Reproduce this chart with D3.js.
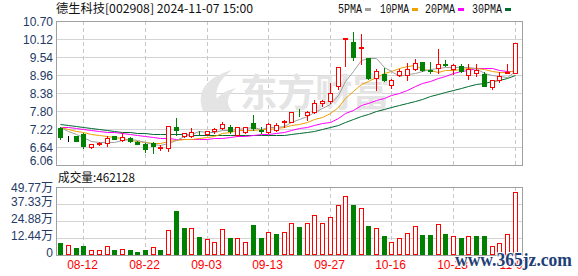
<!DOCTYPE html>
<html><head><meta charset="utf-8">
<script src="https://cdn.jsdelivr.net/npm/d3@7"></script>
<style>body{margin:0;background:#fff;}svg{display:block}</style>
</head><body>
<svg id="c" width="578" height="276"></svg>
<script>
const title = "德生科技[002908] 2024-11-07 15:00";
const dates = ["08-07","08-08","08-09","08-12","08-13","08-14","08-15","08-16","08-19","08-20","08-21","08-22","08-23","08-26","08-27","08-28","08-29","08-30",
"09-02","09-03","09-04","09-05","09-06","09-09","09-10","09-11","09-12","09-13","09-18","09-19","09-20","09-23","09-24","09-25","09-26","09-27","09-30",
"10-08","10-09","10-10","10-11","10-14","10-15","10-16","10-17","10-18","10-21","10-22","10-23","10-24","10-25","10-28","10-29","10-30","10-31",
"11-01","11-04","11-05","11-06","11-07"];
const open  = [7.25,6.98,6.98,7.07,6.65,6.73,6.78,6.98,6.85,6.94,6.80,6.74,6.78,6.60,6.60,7.28,6.98,7.00,7.10,7.06,7.14,7.24,7.30,7.03,7.11,7.41,7.19,7.11,7.19,7.46,7.46,7.78,7.66,7.77,8.07,8.13,8.60,10.13,10.02,9.82,9.50,8.85,9.00,8.63,8.96,8.95,9.16,9.38,9.12,9.17,9.31,9.14,9.24,8.97,9.03,9.00,8.58,8.81,9.03,9.03];
const high  = [7.30,6.98,6.98,7.09,6.74,6.79,6.99,7.00,7.09,6.96,6.82,6.78,6.80,6.71,7.32,7.57,7.10,7.24,7.16,7.16,7.25,7.43,7.34,7.30,7.30,7.67,7.28,7.42,7.42,7.52,7.78,7.87,7.80,8.16,8.15,8.70,9.23,10.14,10.34,10.27,9.52,9.15,9.17,8.82,9.16,9.35,9.49,9.39,9.38,9.81,9.43,9.30,9.32,9.32,9.30,9.05,8.80,9.05,9.30,9.98];
const low   = [6.89,6.82,6.82,6.61,6.60,6.72,6.67,6.90,6.84,6.79,6.73,6.49,6.46,6.55,6.50,7.03,6.96,6.95,7.02,7.04,7.10,7.21,7.09,7.00,7.08,7.19,7.08,7.08,7.14,7.28,7.45,7.65,7.52,7.73,7.95,8.06,8.52,9.24,9.45,9.32,8.84,8.48,8.76,8.54,8.92,8.79,9.11,9.08,9.03,9.01,9.24,9.00,9.05,8.84,8.92,8.60,8.52,8.74,9.02,9.02];
const close = [6.96,6.98,6.83,6.66,6.73,6.78,6.94,6.91,6.97,6.83,6.74,6.57,6.66,6.64,7.31,7.19,7.08,7.11,7.08,7.14,7.21,7.37,7.17,7.28,7.29,7.24,7.17,7.38,7.35,7.49,7.77,7.76,7.77,8.06,8.12,8.38,9.22,10.14,9.54,9.86,8.85,9.09,8.79,8.81,9.10,9.14,9.35,9.11,9.10,9.32,9.27,9.28,9.08,9.14,9.11,8.61,8.79,8.94,9.07,9.98];
// volume in 万 (10k lots)
const volume = [8.8,7.3,5.1,6.6,3.4,3.4,6.6,3.7,4.1,3.7,2.2,3.7,5.6,3.7,18.1,32.2,19.8,19.8,13.2,11.7,9.3,18.8,12.4,12.2,9.3,22.0,12.4,16.6,15.4,16.6,23.2,20.5,23.2,29.0,23.2,27.6,36.4,42.9,36.6,34.2,21.2,19.8,13.9,9.5,12.2,15.9,21.0,14.6,14.6,22.4,15.4,13.9,12.4,13.9,13.9,13.9,6.6,8.6,15.2,46.2128];
const ma5  = [7.28,7.17,7.07,6.97,6.83,6.80,6.79,6.80,6.87,6.89,6.88,6.80,6.75,6.69,6.78,6.87,6.98,7.07,7.15,7.12,7.12,7.18,7.19,7.23,7.26,7.27,7.23,7.27,7.28,7.33,7.43,7.55,7.63,7.77,7.90,8.02,8.31,8.78,9.08,9.43,9.52,9.50,9.23,9.08,8.93,8.99,9.04,9.10,9.16,9.20,9.23,9.22,9.22,9.22,9.18,9.04,8.95,8.92,8.90,9.08];
const ma10 = [7.28,7.23,7.17,7.12,7.07,7.03,6.99,6.95,6.92,6.86,6.84,6.80,6.78,6.78,6.84,6.88,6.89,6.91,6.92,6.95,7.00,7.08,7.13,7.19,7.19,7.20,7.21,7.23,7.26,7.29,7.35,7.39,7.45,7.53,7.61,7.73,7.93,8.21,8.43,8.66,8.77,8.90,9.01,9.08,9.18,9.25,9.27,9.16,9.12,9.07,9.11,9.13,9.16,9.19,9.19,9.14,9.08,9.06,9.06,9.13];
const ma20 = [7.29,7.27,7.24,7.22,7.19,7.16,7.13,7.11,7.08,7.05,7.02,6.99,6.96,6.93,6.92,6.91,6.90,6.90,6.90,6.91,6.92,6.94,6.96,6.99,7.01,7.04,7.05,7.07,7.09,7.12,7.18,7.24,7.29,7.36,7.40,7.46,7.57,7.72,7.84,7.98,8.06,8.15,8.23,8.30,8.39,8.49,8.60,8.69,8.77,8.86,8.94,9.01,9.08,9.13,9.18,9.20,9.17,9.11,9.09,9.10];
const ma30 = [7.38,7.35,7.31,7.28,7.25,7.21,7.18,7.15,7.13,7.11,7.09,7.08,7.07,7.06,7.06,7.05,7.05,7.04,7.04,7.03,7.03,7.03,7.03,7.03,7.03,7.03,7.03,7.03,7.03,7.04,7.06,7.09,7.12,7.17,7.21,7.27,7.34,7.45,7.54,7.64,7.71,7.79,7.86,7.93,7.99,8.06,8.13,8.20,8.27,8.34,8.41,8.47,8.54,8.60,8.66,8.71,8.76,8.81,8.87,8.95];
const priceTicks = [6.06,6.64,7.22,7.80,8.38,8.96,9.54,10.12,10.70];
const volTicks = [0,12.44,24.88,37.33,49.77];
const xLabels = ["08-12","08-22","09-03","09-13","09-27","10-16","10-28","11-07"];
const maNames = ["5PMA","10PMA","20PMA","30PMA"];
const maColors = ["#a0a0a0","#f0a000","#ff00ff","#006a30"];
const lastVolumeText = "成交量:462128";

const RED = "#ff0000", GREEN = "#008000", GRID = "#d4d4d4", BORDER = "#a0a0a0", AXIS_TXT = "#233a66";
const svg = d3.select("#c");
const L = 56, R = 522, PT = 21, PB = 165, VT = 187, VB = 255;
const idx = d3.range(dates.length);
const x = d3.scaleBand().domain(idx).range([56.5, 518.5]).paddingInner(0.35).paddingOuter(0.175);
const cx = i => Math.round(x(i) + x.bandwidth() / 2) + 0.5;
const y = d3.scaleLinear().domain([6.06, 10.70]).range([PB, PT]);
const yv = d3.scaleLinear().domain([0, 49.77]).range([VB, VT]);
const snap = v => Math.round(v) + 0.5;

// grids
const g = svg.append("g").attr("shape-rendering", "crispEdges");
g.selectAll(".hg").data(priceTicks.slice(1, -1)).join("line")
  .attr("x1", L).attr("x2", R).attr("y1", d => snap(y(d))).attr("y2", d => snap(y(d)))
  .attr("stroke", GRID);
g.selectAll(".vhg").data(volTicks.slice(1, -1)).join("line")
  .attr("x1", L).attr("x2", R).attr("y1", d => snap(yv(d))).attr("y2", d => snap(yv(d)))
  .attr("stroke", GRID);
const labelIdx = xLabels.map(l => dates.indexOf(l));
[[PT, PB], [VT, VB]].forEach(([a, b]) => {
  g.selectAll(null).data(labelIdx).join("line")
    .attr("x1", d => cx(d)).attr("x2", d => cx(d)).attr("y1", a).attr("y2", b)
    .attr("stroke", "#c8c8c8").attr("stroke-dasharray", "4,3");
});

// watermark logo
const wm = svg.append("g").attr("fill", "#e4e4e4");
wm.append("path").attr("d", "M203,111 C196,92 205,78 232,70 C214,84 212,98 224,111 Z");
wm.append("path").attr("d", "M214,111 C212,100 220,92 236,88 C226,96 226,104 232,111 Z");
wm.append("text").attr("x", 240).attr("y", 106).attr("font-family", "Noto Sans CJK SC")
  .attr("font-weight", "bold").attr("font-size", 38).attr("textLength", 150).attr("lengthAdjust", "spacingAndGlyphs")
  .text("东方财富");

// borders
g.append("rect").attr("x", L + 0.5).attr("y", PT + 0.5).attr("width", R - L).attr("height", PB - PT)
  .attr("fill", "none").attr("stroke", BORDER);
g.append("rect").attr("x", L + 0.5).attr("y", VT + 0.5).attr("width", R - L).attr("height", VB - VT)
  .attr("fill", "none").attr("stroke", BORDER);

// MA lines
const mas = [ma5, ma10, ma20, ma30];
const lineGen = d3.line().x((d, i) => cx(i)).y(d => Math.round(y(d)) + 0.5);
const lg = svg.append("g");
mas.slice().reverse().forEach((m, k) => {
  const j = 3 - k;
  lg.append("path").attr("d", lineGen(m)).attr("fill", "none").attr("stroke", maColors[j]).attr("stroke-width", 1);
});

// candles
const candleColor = i => close[i] > open[i] ? RED : (close[i] < open[i] ? GREEN : "#000");
const cg = svg.append("g").attr("shape-rendering", "crispEdges");
cg.selectAll(".wick").data(idx).join("line")
  .attr("x1", cx).attr("x2", cx)
  .attr("y1", i => Math.round(y(high[i]))).attr("y2", i => Math.round(y(low[i])) + 1)
  .attr("stroke", candleColor);
cg.selectAll(".body").data(idx).join("rect")
  .attr("x", i => cx(i) - 2)
  .attr("y", i => snap(y(Math.max(open[i], close[i]))))
  .attr("width", 4)
  .attr("height", i => Math.max(0, Math.round(y(Math.min(open[i], close[i]))) - Math.round(y(Math.max(open[i], close[i])))))
  .attr("fill", i => close[i] > open[i] ? "#fff" : candleColor(i))
  .attr("stroke", candleColor);

// volume bars (colour by change vs previous close)
const volUp = i => i === 0 ? close[0] >= open[0] : close[i] >= close[i - 1];
cg.selectAll(".vol").data(idx).join("rect")
  .attr("x", i => cx(i) - 2)
  .attr("y", i => snap(yv(volume[i])))
  .attr("width", 4)
  .attr("height", i => VB - Math.round(yv(volume[i])) - 1)
  .attr("fill", i => volUp(i) ? "#fff" : GREEN)
  .attr("stroke", i => volUp(i) ? RED : GREEN);

// price axis labels
const ax = svg.append("g").attr("transform", `translate(${L},0)`)
  .call(d3.axisLeft(y).tickValues(priceTicks).tickFormat(d3.format(".2f")).tickSize(0).tickPadding(3));
ax.select(".domain").remove();
ax.selectAll("text").attr("font-family", "Liberation Sans, Arial, sans-serif").attr("font-size", 12)
  .attr("fill", AXIS_TXT).attr("dy", d => d === 6.06 ? "-0.05em" : "0.36em");

const vax = svg.append("g").attr("transform", `translate(${L},0)`)
  .call(d3.axisLeft(yv).tickValues(volTicks).tickFormat(d => d === 0 ? "0" : d.toFixed(2) + "万").tickSize(0).tickPadding(3));
vax.select(".domain").remove();
vax.selectAll("text").attr("font-family", "Liberation Sans, 'Noto Sans CJK SC', sans-serif").attr("font-size", 12)
  .attr("fill", AXIS_TXT).attr("dy", d => d === 49.77 ? "0.36em" : "0.15em");

// x labels
svg.append("g").selectAll("text").data(labelIdx).join("text")
  .attr("x", d => cx(d) - 1).attr("y", 269).attr("text-anchor", "middle")
  .attr("font-family", "Liberation Sans, Arial, sans-serif").attr("font-size", 12).attr("fill", RED)
  .text(d => dates[d]);

// title
svg.append("text").attr("x", 56).attr("y", 13).attr("font-family", "'Noto Sans CJK SC', sans-serif")
  .attr("font-size", 12).attr("fill", "#111").attr("textLength", 197).attr("lengthAdjust", "spacingAndGlyphs")
  .text(title);

// legend
const legX = [338, 380, 425, 472], legW = [24, 29, 30, 30];
const leg = svg.append("g");
maNames.forEach((n, k) => {
  leg.append("text").attr("x", legX[k]).attr("y", 13).attr("font-family", "'Liberation Mono', monospace")
    .attr("font-size", 12).attr("fill", "#111").attr("textLength", legW[k]).attr("lengthAdjust", "spacingAndGlyphs").text(n);
  leg.append("rect").attr("x", legX[k] + legW[k] + 3).attr("y", 8).attr("width", 6).attr("height", 3).attr("fill", maColors[k]);
});

// volume header
svg.append("text").attr("x", 58).attr("y", 182).attr("font-family", "'Noto Sans CJK SC', sans-serif")
  .attr("font-size", 12).attr("fill", "#111").attr("textLength", 77).attr("lengthAdjust", "spacingAndGlyphs")
  .text(lastVolumeText);

// site watermark
svg.append("text").attr("x", 455).attr("y", 266).attr("font-family", "'Liberation Serif', serif")
  .attr("font-size", 18).attr("font-weight", "bold").attr("fill", "#1f3f78")
  .attr("stroke", "#fff").attr("stroke-width", 2).attr("paint-order", "stroke")
  .attr("textLength", 117).attr("lengthAdjust", "spacingAndGlyphs").text("www.365jz.com");
</script>
</body></html>
